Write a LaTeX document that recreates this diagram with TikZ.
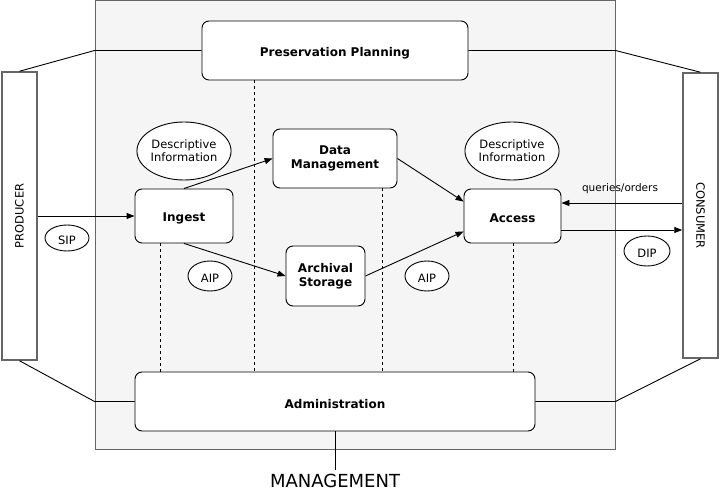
\documentclass[tikz,border=0pt]{standalone}
\usepackage{fontspec}
\setmainfont{DejaVu Sans}
\usetikzlibrary{arrows.meta,shapes.geometric}

\definecolor{panelgray}{HTML}{F5F5F5}
\definecolor{edgegray}{HTML}{666666}

\tikzset{
  func/.style={draw,rounded corners=7pt,fill=white,align=center,inner sep=0pt,
    font=\fontsize{12}{14}\selectfont\bfseries,execute at begin node={\rule{0pt}{14pt}}},
  ent/.style={draw=edgegray,line width=1.5pt,fill=white,inner sep=0pt,
    font=\fontsize{11.5}{13}\selectfont},
  info/.style={draw,ellipse,fill=white,align=center,inner sep=0pt,
    font=\fontsize{11.5}{13}\selectfont,execute at begin node={\rule{0pt}{13pt}}},
  link/.style={-{Triangle[length=8pt,width=6pt]}},
}

\begin{document}
\begin{tikzpicture}[x=1pt,y=-1pt,line width=0.9pt]
\useasboundingbox (0,0) rectangle (721,494);

% Background
\node[draw=edgegray,fill=panelgray,line width=1pt,minimum width=520pt,minimum height=449pt,inner sep=0pt] (bg) at (355,225.5) {};

% Functional entities
\node[func,minimum width=266pt,minimum height=59pt] (pp) at (335,50.5) {Preservation Planning};
\node[func,minimum width=98pt,minimum height=54pt] (ingest) at (184,216) {Ingest};
\node[func,minimum width=124pt,minimum height=59pt] (dm) at (335,158.5) {Data\\Management};
\node[func,minimum width=79pt,minimum height=60pt] (arch) at (325.5,276) {Archival\\Storage};
\node[func,minimum width=97pt,minimum height=54pt] (access) at (512.5,216) {Access};
\node[func,minimum width=400pt,minimum height=59pt] (admin) at (335,401.5) {Administration};

% Producer and consumer
\node[ent,minimum width=35pt,minimum height=288pt] (prod) at (19.5,216) {};
\node[rotate=90,font=\fontsize{11.5}{13}\selectfont] (prodtext) at (prod.center) {PRODUCER};
\node[ent,minimum width=35pt,minimum height=285pt] (cons) at (700.5,215.5) {};
\node[rotate=-90,font=\fontsize{11.5}{13}\selectfont] (constext) at (cons.center) {CONSUMER};

% Information packages
\node[info,minimum width=90pt,minimum height=58pt] (descl) at (184,151) {Descriptive\\Information};
\node[info,minimum width=90pt,minimum height=58pt] (descr) at (512,151) {Descriptive\\Information};
\node[info,minimum width=44pt,minimum height=26pt] (sip) at (67,238) {SIP};
\node[info,minimum width=44pt,minimum height=30pt] (aipl) at (210,276) {AIP};
\node[info,minimum width=44pt,minimum height=30pt] (aipr) at (427,276) {AIP};
\node[info,minimum width=46pt,minimum height=30pt] (dip) at (647,251) {DIP};

% Outline to producer and consumer
\draw (prod.north) -- (bg.west |- pp.west) -- (pp.west);
\draw (pp.east) -- (bg.east |- pp.east) -- (cons.north);
\draw (prod.south) -- (bg.west |- admin.west) -- (admin.west);
\draw (admin.east) -- (bg.east |- admin.east) -- (cons.south);

% Dashed links to administration
\foreach \src/\dx in {ingest.south/-24, pp.south/-81, dm.south/47, access.south/0.5}
  \draw[dashed] ([xshift=\dx pt]\src) -- ([xshift=\dx pt]\src |- admin.north);

% Data flow
\draw[link] (prod.east |- ingest.west) -- (ingest.west);
\draw[link] (ingest.north) -- (dm.west);
\draw[link] (ingest.south) -- (arch.west);
\draw[link] (dm.east) -- ([yshift=-13pt]access.north west);
\draw[link] (arch.east) -- ([yshift=12pt]access.south west);
\coordinate (qin) at ([yshift=13pt]access.east);
\coordinate (qout) at ([yshift=-14pt]access.east);
\draw[link] (cons.west |- qin) -- (qin);
\draw[link] (qout) -- (cons.west |- qout);
\node[font=\fontsize{10.5}{12}\selectfont] (query) at (620,189) {queries/orders};

% Management
\node[anchor=north,inner sep=0pt,font=\fontsize{18}{20}\selectfont] (mgmt) at (335,474) {MANAGEMENT};
\draw (admin.south) -- ([yshift=4pt]mgmt.north);

\end{tikzpicture}
\end{document}
